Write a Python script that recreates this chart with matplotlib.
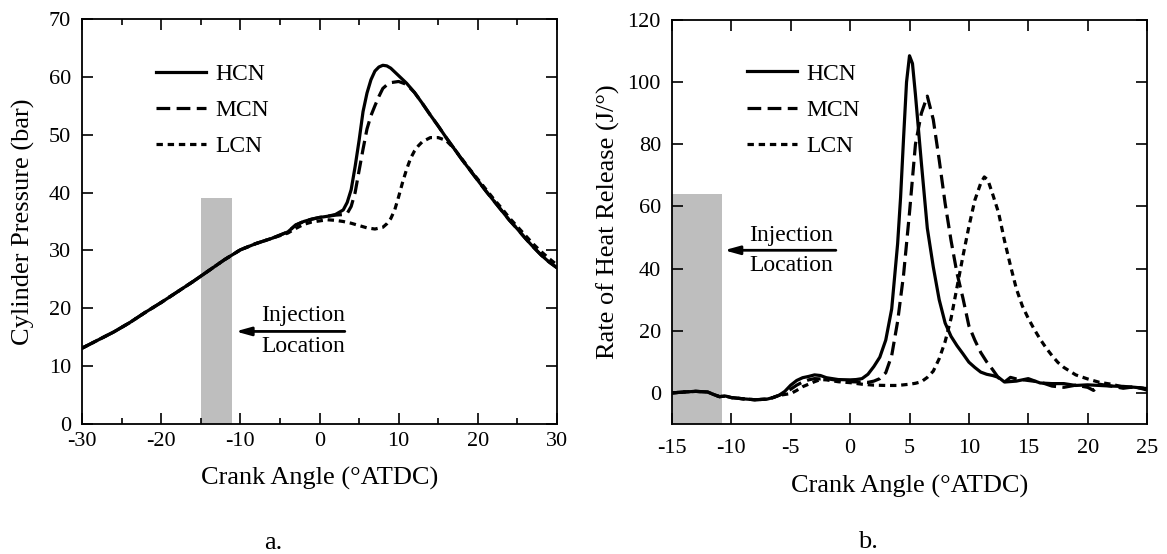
import matplotlib
matplotlib.use("Agg")
import matplotlib.pyplot as plt
from matplotlib.ticker import MultipleLocator

plt.rcParams['font.family'] = ['Liberation Serif', 'DejaVu Serif']
plt.rcParams['axes.unicode_minus'] = False

# ---- (a) cylinder pressure ----
angle_p = [-30, -28, -26, -24, -22, -20, -18, -16, -14, -12, -10, -8, -6, -4, -3, -2, -1, 0, 1, 2, 3,
           3.5, 4, 4.5, 5, 5.5, 6, 6.5, 7, 7.5, 8, 8.5, 9, 10, 11, 12, 13, 14, 15, 16, 17, 18, 19,
           20, 21, 22, 23, 24, 25, 26, 27, 28, 29, 30]
p_hcn = [13.1, 14.5, 15.9, 17.5, 19.3, 21.0, 22.8, 24.6, 26.5, 28.4, 30.1, 31.2, 32.1, 33.2, 34.4,
         35.0, 35.4, 35.7, 35.9, 36.2, 37.0,
         38.3, 40.5, 44.5, 49.0, 54.0, 57.2, 59.5, 61.0, 61.7, 62.0, 61.9, 61.5, 60.2, 58.9, 57.3,
         55.4, 53.4, 51.5, 49.5, 47.6, 45.7, 43.9, 42.1, 40.3, 38.6, 36.9, 35.2, 33.7, 32.1, 30.6,
         29.2, 28.0, 27.0]
p_mcn = [13.1, 14.5, 15.9, 17.5, 19.3, 21.0, 22.8, 24.6, 26.5, 28.4, 30.1, 31.2, 32.1, 33.2, 34.4,
         35.0, 35.4, 35.7, 35.9, 36.1, 36.2,
         36.4, 37.6, 40.0, 43.8, 47.5, 51.0, 53.3, 55.0, 56.6, 58.0, 58.6, 59.0, 59.2, 58.7, 57.3,
         55.4, 53.4, 51.5, 49.5, 47.6, 45.7, 43.9, 42.1, 40.3, 38.6, 36.9, 35.2, 33.7, 32.1, 30.6,
         29.2, 28.0, 27.0]
angle_p_lcn = [-30, -28, -26, -24, -22, -20, -18, -16, -14, -12, -10, -8, -6, -4, -3, -2, -1, 0, 1, 2,
               3, 4, 5, 6, 7, 8, 8.5, 9, 9.5, 10, 10.5, 11, 11.5, 12, 12.5, 13, 14, 15, 16, 17, 18,
               19, 20, 21, 22, 23, 24, 25, 26, 27, 28, 29, 30]
p_lcn = [13.1, 14.5, 15.9, 17.5, 19.3, 21.0, 22.8, 24.6, 26.5, 28.4, 30.1, 31.2, 32.1, 33.0, 33.8,
         34.5, 34.9, 35.1, 35.3, 35.2, 35.0, 34.7, 34.3, 33.9, 33.7, 34.0, 34.6, 35.5, 37.0, 39.3,
         41.8, 44.0, 45.9, 47.2, 48.1, 48.8, 49.5, 49.5, 49.0, 47.6, 45.8, 44.0, 42.3, 40.6, 38.9,
         37.3, 35.6, 34.1, 32.6, 31.1, 29.8, 28.6, 27.5]

# ---- (b) rate of heat release ----
angle_h = [-15, -14, -13, -12, -11.5, -11, -10.5, -10, -9, -8, -7, -6.5, -6, -5.5, -5, -4.5, -4,
           -3.5, -3, -2.5, -2, -1.5, -1, 0, 0.5, 1, 1.5, 2, 2.5, 3, 3.5, 4, 4.25, 4.5, 4.75, 5,
           5.25, 5.5, 5.75, 6, 6.5, 7, 7.5, 8, 8.5, 9, 9.5, 10, 10.5, 11, 11.5, 12, 12.5, 13, 14,
           15, 16, 17, 18, 19, 20, 21, 22, 23, 24, 25]
h_hcn = [0.0, 0.3, 0.5, 0.3, -0.5, -1.2, -1.0, -1.5, -1.9, -2.2, -2.0, -1.5, -0.8, 0.5, 2.5, 4.0,
         4.9, 5.3, 5.8, 5.6, 4.9, 4.6, 4.3, 4.2, 4.3, 4.6, 6.0, 8.5, 11.5, 17, 27, 48, 63, 82, 100,
         108.5, 106, 96, 85, 74, 53, 40.6, 30, 22.5, 18.2, 15.2, 12.6, 9.9, 8.2, 6.7, 6.0, 5.6, 5.0,
         3.5, 3.8, 4.6, 3.2, 3.0, 3.0, 2.4, 2.6, 2.4, 2.2, 2.1, 1.8, 1.4]
angle_h_mcn = [-15, -14, -13, -12, -11.5, -11, -10.5, -10, -9, -8, -7, -6.5, -6, -5.5, -5, -4.5, -4,
               -3.5, -3, -2.5, -2, -1, 0, 1, 1.5, 2, 2.5, 3, 3.5, 4, 4.5, 5, 5.5, 6, 6.5, 7, 7.5,
               8, 8.5, 9, 9.5, 10, 10.5, 11, 11.5, 12, 12.5, 13, 13.5, 14, 15, 16, 17, 18, 19, 20,
               20.5, 21, 22, 23, 24, 25]
h_mcn = [0.0, 0.3, 0.5, 0.3, -0.5, -1.2, -1.0, -1.5, -1.9, -2.2, -2.0, -1.5, -0.8, 0.0, 1.2, 2.5,
         3.5, 4.2, 4.6, 4.5, 4.6, 4.0, 3.6, 3.5, 3.4, 3.8, 4.6, 6.5, 12, 23, 38, 58, 80, 90, 95.5,
         88, 75, 61, 49, 38.5, 30.5, 21.6, 17, 13, 10, 7.5, 4.8, 3.5, 5.0, 4.5, 4.0, 3.5, 2.2, 1.8,
         2.5, 1.8, 0.8, 2.8, 2.2, 1.5, 2.0, 0.9]
angle_h_lcn = [-15, -14, -13, -12, -11.5, -11, -10.5, -10, -9, -8, -7, -6.5, -6, -5.5, -5, -4.5, -4,
               -3.5, -3, -2.5, -2, -1, 0, 1, 2, 3, 4, 5, 5.5, 6, 6.5, 7, 7.5, 8, 8.5, 9, 9.5, 10,
               10.5, 11, 11.3, 11.6, 12, 12.5, 13, 13.5, 14, 14.5, 15, 15.5, 16, 16.5, 17, 17.5, 18,
               19, 20, 21, 22, 23, 24, 25]
h_lcn = [0.0, 0.3, 0.5, 0.3, -0.5, -1.2, -1.0, -1.5, -1.9, -2.2, -2.0, -1.5, -0.8, -0.5, -0.2, 0.8,
         2.0, 2.8, 3.6, 4.3, 4.2, 3.6, 3.3, 2.8, 2.5, 2.4, 2.4, 2.8, 3.1, 3.6, 5.0, 7.0, 11, 16.5,
         24, 34, 44, 53.5, 62, 67.5, 69.5, 68.5, 64, 58, 49, 41, 33.5, 28, 24, 20.5, 17.3, 14.5, 12,
         9.8, 8.2, 5.8, 4.5, 3.4, 2.8, 1.9, 1.8, 1.4]

# injection window: start, end, top of grey band
inj_a = (-15, -11, 39)
inj_b = (-15, -10.8, 64)

labels = ['HCN', 'MCN', 'LCN']
styles = ['-', (0, (4.3, 2.0)), (0, (2.0, 1.5))]

fig = plt.figure(figsize=(11.67, 5.54), dpi=100)
ax1 = fig.add_axes([82 / 1167, 1 - 424 / 554, 475 / 1167, 405 / 554])
ax2 = fig.add_axes([672 / 1167, 1 - 424 / 554, 475 / 1167, 404 / 554])

grey = '#bebebe'
lw = 2.3

# (a)
ax1.bar(inj_a[0], inj_a[2], width=inj_a[1] - inj_a[0], bottom=0, align='edge', color=grey, zorder=1)
ax1.plot(angle_p, p_hcn, color='black', lw=lw, ls=styles[0], label=labels[0], zorder=3)
ax1.plot(angle_p, p_mcn, color='black', lw=lw, ls=styles[1], label=labels[1], zorder=3)
ax1.plot(angle_p_lcn, p_lcn, color='black', lw=lw, ls=styles[2], label=labels[2], zorder=3)
ax1.set_xlim(-30, 30)
ax1.set_ylim(0, 70)
ax1.xaxis.set_major_locator(MultipleLocator(10))
ax1.xaxis.set_minor_locator(MultipleLocator(5))
ax1.yaxis.set_major_locator(MultipleLocator(10))
ax1.set_ylabel('Cylinder Pressure (bar)', fontsize=19)
ax1.set_xlabel('Crank Angle (°ATDC)', fontsize=19)
ax1.yaxis.set_label_coords(-0.099, 0.5)
ax1.xaxis.set_label_coords(0.5, -0.106)
ax1.annotate('', xy=(-10.6, 16.0), xytext=(3.2, 16.0),
             arrowprops=dict(arrowstyle='-|>,head_length=0.9,head_width=0.25', lw=2, color='black',
                             shrinkA=0, shrinkB=0))
ax1.text(-2.05, 18.7, 'Injection', ha='center', va='center', fontsize=17)
ax1.text(-2.05, 13.4, 'Location', ha='center', va='center', fontsize=17)
ax1.legend(loc='center left', bbox_to_anchor=(0.155, 0.774), frameon=False, fontsize=17,
           handlelength=2.15, handletextpad=0.4, labelspacing=0.62, borderpad=0, borderaxespad=0)

# (b)
ax2.bar(inj_b[0], inj_b[2] + 10, width=inj_b[1] - inj_b[0], bottom=-10, align='edge', color=grey, zorder=1)
ax2.plot(angle_h, h_hcn, color='black', lw=lw, ls=styles[0], label=labels[0], zorder=3)
ax2.plot(angle_h_mcn, h_mcn, color='black', lw=lw, ls=styles[1], label=labels[1], zorder=3)
ax2.plot(angle_h_lcn, h_lcn, color='black', lw=lw, ls=styles[2], label=labels[2], zorder=3)
ax2.set_xlim(-15, 25)
ax2.set_ylim(-10, 120)
ax2.xaxis.set_major_locator(MultipleLocator(5))
ax2.yaxis.set_major_locator(MultipleLocator(20))
ax2.set_ylim(-10, 120)
ax2.set_ylabel('Rate of Heat Release (J/°)', fontsize=19)
ax2.set_xlabel('Crank Angle (°ATDC)', fontsize=19)
ax2.yaxis.set_label_coords(-0.109, 0.5)
ax2.xaxis.set_label_coords(0.5, -0.126)
ax2.annotate('', xy=(-10.6, 45.9), xytext=(-1.2, 45.9),
             arrowprops=dict(arrowstyle='-|>,head_length=0.9,head_width=0.25', lw=2, color='black',
                             shrinkA=0, shrinkB=0))
ax2.text(-4.95, 50.6, 'Injection', ha='center', va='center', fontsize=17)
ax2.text(-4.95, 41.1, 'Location', ha='center', va='center', fontsize=17)
ax2.legend(loc='center left', bbox_to_anchor=(0.157, 0.777), frameon=False, fontsize=17,
           handlelength=2.15, handletextpad=0.4, labelspacing=0.62, borderpad=0, borderaxespad=0)

for ax, pad in ((ax1, 6), (ax2, 11)):
    ax.tick_params(which='both', direction='in', top=True, right=True, labelsize=16, width=1.2)
    ax.tick_params(which='major', length=7.7)
    ax.tick_params(which='minor', length=4)
    ax.tick_params(axis='x', pad=pad)
    ax.tick_params(axis='y', pad=8)
    for s in ax.spines.values():
        s.set_linewidth(1.3)

fig.text(273 / 1167, 1 - 543 / 554, 'a.', ha='center', va='center', fontsize=19)
fig.text(868 / 1167, 1 - 542 / 554, 'b.', ha='center', va='center', fontsize=19)

fig.savefig('out.png', dpi=100)
